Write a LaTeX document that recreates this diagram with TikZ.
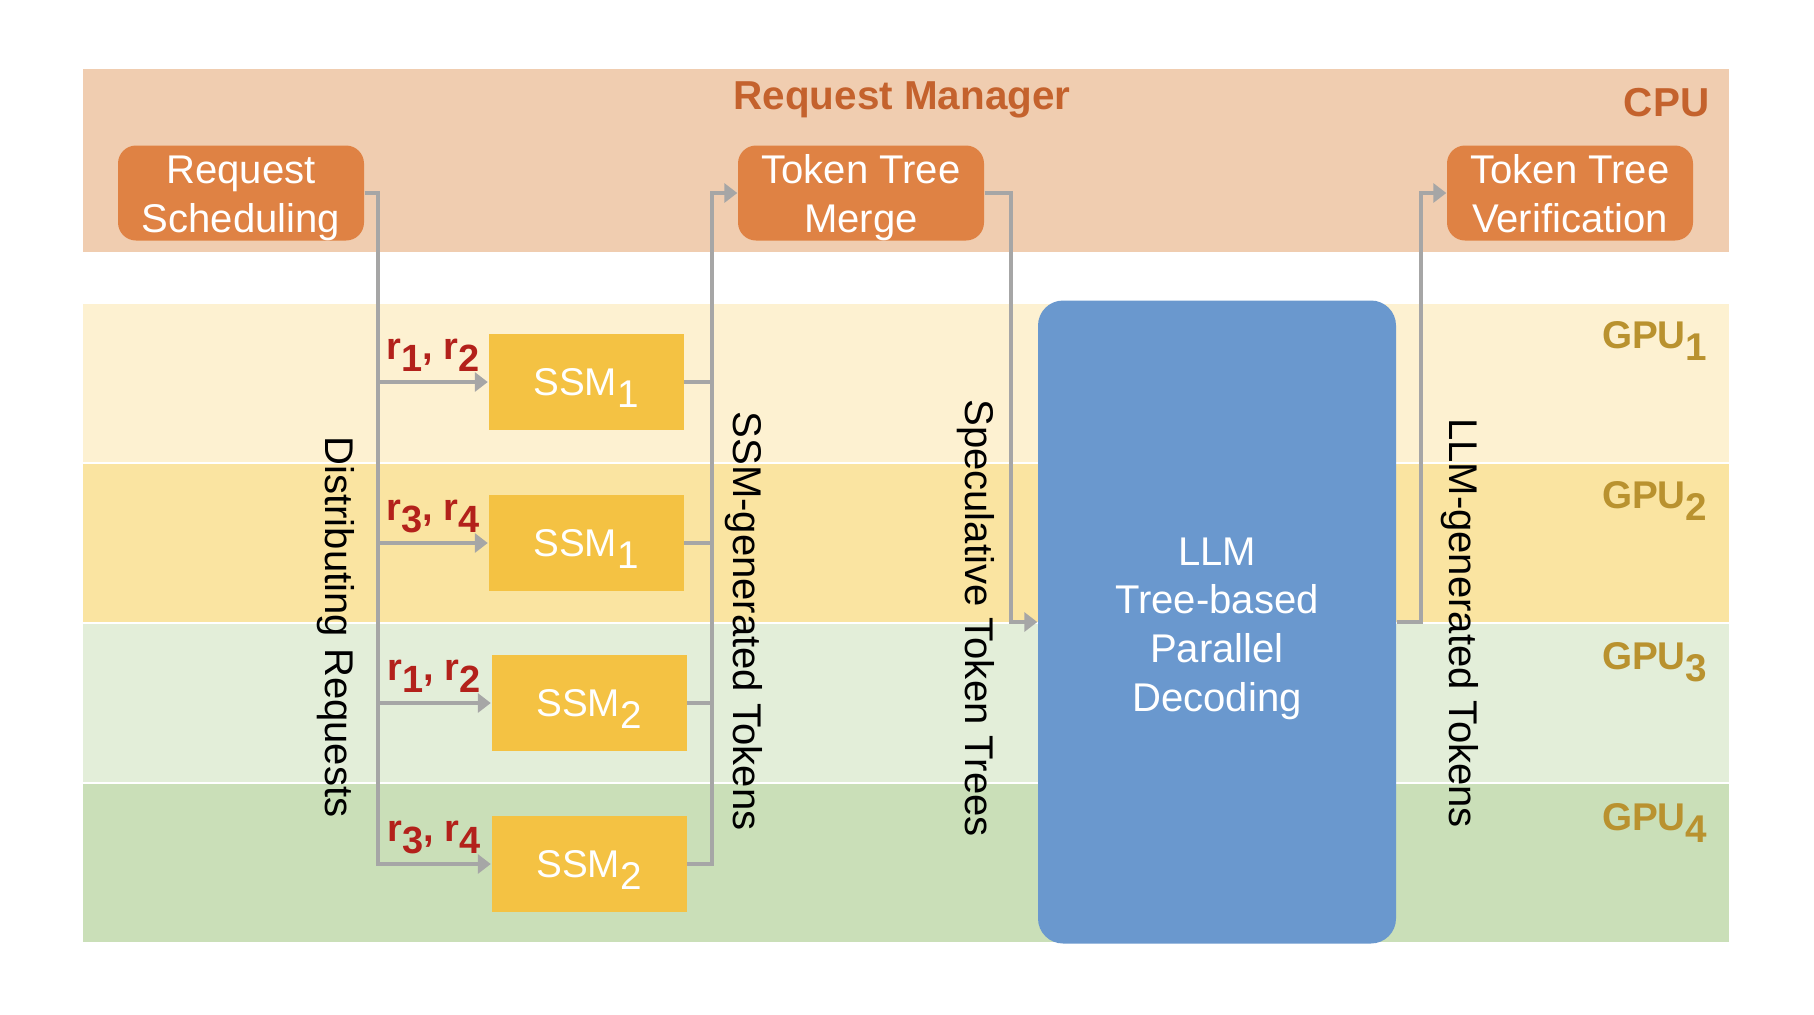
\documentclass[tikz,border=0pt]{standalone}
\usepackage{fontspec}
\setmainfont{Liberation Sans}
\usetikzlibrary{arrows.meta}

\definecolor{cpuband}{HTML}{F0CDB0}
\definecolor{gpuone}{HTML}{FDF1D1}
\definecolor{gputwo}{HTML}{FAE4A1}
\definecolor{gputhree}{HTML}{E3EED9}
\definecolor{gpufour}{HTML}{CADFB8}
\definecolor{boxorange}{HTML}{DF8244}
\definecolor{titleorange}{HTML}{C4622D}
\definecolor{gputext}{HTML}{B9922F}
\definecolor{ssmgold}{HTML}{F4C243}
\definecolor{llmblue}{HTML}{6A98CE}
\definecolor{reqred}{HTML}{B3211B}
\definecolor{arrowgray}{HTML}{A6A6A6}

% lowered index, same size as the text
\newcommand{\dn}[1]{\raisebox{-0.32em}[0pt][0pt]{#1}}
% two lines in a cpu box
\newcommand{\twolines}[2]{\rule{0pt}{10.8pt}#1\\#2\rule[-2.4pt]{0pt}{2.4pt}}

\begin{document}
\begin{tikzpicture}[x=0.1mm,y=-0.1mm,
  font=\fontsize{11.4}{13.8}\selectfont,
  cpubox/.style={fill=boxorange,text=white,rounded corners=1.8mm,align=center,
    minimum width=24.6mm,minimum height=9.5mm,inner sep=0pt},
  ssmbox/.style={fill=ssmgold,text=white,font=\fontsize{11}{13.7}\selectfont,
    minimum width=19.5mm,minimum height=9.6mm,inner sep=0pt},
  llmbox/.style={fill=llmblue,text=white,rounded corners=2.5mm,align=center,
    minimum width=35.8mm,minimum height=64.3mm,inner sep=0pt},
  title/.style={text=titleorange,font=\fontsize{11.5}{13.7}\selectfont\bfseries,inner sep=0pt},
  gpulabel/.style={text=gputext,font=\fontsize{11}{13.7}\selectfont\bfseries,inner sep=0pt,anchor=east},
  reqlabel/.style={text=reqred,font=\fontsize{10.8}{13}\selectfont\bfseries,inner sep=0pt,above=1.6mm},
  vlabel/.style={rotate=-90,inner sep=0pt},
  link/.style={draw=arrowgray,line width=1.1pt},
  flow/.style={link,-{Triangle[length=1.3mm,width=1.9mm]}}]
\useasboundingbox (0,0) rectangle (1814,1014);
% bands
\fill[cpuband] (83,69) rectangle (1729,252);
\foreach \y/\c in {303/gpuone,463/gputwo,623/gputhree,783/gpufour}
  \fill[\c] (83,\y+1) rectangle (1729,\y+159);
\node[title] (manager) at (902,100) {Request Manager};
\node[title,anchor=east] (cpu) at (1710,103) {CPU};
\node[gpulabel] (gpua) at (1708,335) {GPU\dn{1}};
\node[gpulabel] (gpub) at (1708,495) {GPU\dn{2}};
\node[gpulabel] (gpuc) at (1708,656) {GPU\dn{3}};
\node[gpulabel] (gpud) at (1708,817) {GPU\dn{4}};
% boxes
\node[cpubox] (sched) at (241,193) {\twolines{Request}{Scheduling}};
\node[cpubox] (merge) at (861,193) {\twolines{Token Tree}{Merge}};
\node[cpubox] (verify) at (1570,193) {\twolines{Token Tree}{Verification}};
\node[ssmbox] (ssma) at (586,382) {SSM\dn{1}};
\node[ssmbox] (ssmb) at (586,543) {SSM\dn{1}};
\node[ssmbox] (ssmc) at (589,703) {SSM\dn{2}};
\node[ssmbox] (ssmd) at (589,864) {SSM\dn{2}};
\node[llmbox] (llm) at (1217,622) {\rule{0pt}{11.6pt}LLM\\Tree-based\\Parallel\\Decoding};
% distributing requests
\coordinate (split) at (378,193);
\draw[flow] (sched.east) -- (split) |- (ssmd.west);
\foreach \s in {ssma,ssmb,ssmc}
  \draw[flow] (split |- \s.west) -- (\s.west);
\path (split |- ssma.west) -- node[reqlabel] (reqa) {r\dn{1}, r\dn{2}} (ssma.west);
\path (split |- ssmb.west) -- node[reqlabel] (reqb) {r\dn{3}, r\dn{4}} (ssmb.west);
\path (split |- ssmc.west) -- node[reqlabel] (reqc) {r\dn{1}, r\dn{2}} (ssmc.west);
\path (split |- ssmd.west) -- node[reqlabel] (reqd) {r\dn{3}, r\dn{4}} (ssmd.west);
% collecting tokens
\coordinate (join) at (712,193);
\draw[flow] (ssmd.east) -| (join) -- (merge.west);
\foreach \s in {ssma,ssmb,ssmc}
  \draw[link] (\s.east) -- (join |- \s.east);
% merge to llm and back
\coordinate (spec) at (1011,193);
\draw[flow] (merge.east) -- (spec) |- (llm.west);
\coordinate (back) at (1421,622);
\draw[flow] (llm.east) -- (back) |- (verify.west);
% vertical labels
\node[vlabel] (distlab) at (336,627) {Distributing Requests};
\node[vlabel] (ssmlab) at (744,621) {SSM-generated Tokens};
\node[vlabel] (speclab) at (976,618) {Speculative Token Trees};
\node[vlabel] (llmlab) at (1460,623) {LLM-generated Tokens};
\end{tikzpicture}
\end{document}
